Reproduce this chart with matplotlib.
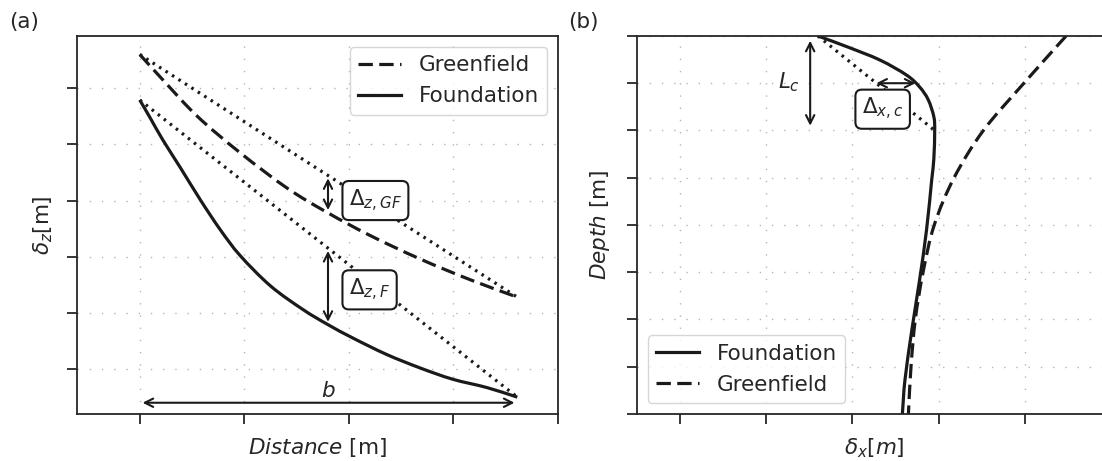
import numpy as np
import matplotlib
matplotlib.use("Agg")
from matplotlib import pyplot as plt
from matplotlib.path import Path
from matplotlib.patches import PathPatch

# (a) surface settlement along the building
dist_gf = [0.00, 0.22, 0.55, 0.96, 1.41, 1.79, 2.20, 2.68, 3.16, 3.61]
dz_gf = [5.60, 5.15, 4.50, 3.85, 3.22, 2.79, 2.38, 1.96, 1.59, 1.28]

dist_fd = [0.00, 0.10, 0.22, 0.39, 0.58, 0.77, 0.96, 1.25, 1.56, 1.80,
           2.04, 2.36, 2.68, 2.99, 3.32, 3.61]
dz_fd = [4.79, 4.47, 4.08, 3.58, 3.01, 2.48, 2.02, 1.48, 1.06, 0.79,
         0.55, 0.26, 0.02, -0.18, -0.33, -0.50]

# (b) horizontal displacement with depth
depth_fd = [0.00, 0.23, 0.51, 0.83, 1.08, 1.35, 1.71, 2.00, 2.60, 3.05,
            4.11, 5.16, 6.22, 7.28, 8.00]
dx_fd = [1.60, 1.94, 2.32, 2.63, 2.78, 2.88, 2.945, 2.955, 2.945, 2.92,
         2.86, 2.78, 2.69, 2.61, 2.58]
depth_gf = [0, 1, 2, 3, 4, 5, 6, 7, 8]
dx_gf = [4.48, 3.99, 3.52, 3.18, 2.95, 2.82, 2.73, 2.68, 2.65]

x_cut = 1.8      # where the deflection ratios are measured in (a)
L_c = 2.0        # cantilever length in (b)

INK = '#1a1a1a'
TXT = '#262626'
FS = 15.5
LW = 2.3
DASH = (0, (4.5, 2.0))
DOT = (0, (0.8, 1.6))


def style_axes(ax):
    for s in ax.spines.values():
        s.set_color(TXT)
        s.set_linewidth(1.3)
    ax.tick_params(length=7, width=1.3, color=TXT, labelbottom=False, labelleft=False)
    ax.grid(True, color='#b5b5b5', lw=1.0, ls=(0, (1, 7.8)))
    ax.set_axisbelow(True)


def smooth_curve(ax, xs, ys, **kw):
    # draw a smooth curve through the points as a chain of cubic beziers
    p = np.column_stack([xs, ys]).astype(float)
    ext = np.vstack([2 * p[0] - p[1], p, 2 * p[-1] - p[-2]])
    verts = [p[0]]
    codes = [Path.MOVETO]
    for i in range(1, len(ext) - 2):
        c1 = ext[i] + (ext[i + 1] - ext[i - 1]) / 6
        c2 = ext[i + 1] - (ext[i + 2] - ext[i]) / 6
        verts += [c1, c2, ext[i + 1]]
        codes += [Path.CURVE4] * 3
    ax.add_patch(PathPatch(Path(verts, codes), fill=False, capstyle='butt', **kw))


def dbl_arrow(ax, p0, p1, shrink=2):
    ax.annotate('', xy=p1, xytext=p0,
                arrowprops=dict(arrowstyle='<->', color=INK, lw=1.5,
                                mutation_scale=15, shrinkA=shrink, shrinkB=shrink))


def main():
    plt.rcParams['font.size'] = FS
    plt.rcParams['text.color'] = TXT
    plt.rcParams['axes.labelcolor'] = TXT

    fig = plt.figure(figsize=(11.02, 4.61), dpi=100)
    ax1 = fig.add_axes([0.0699, 0.1020, 0.4365, 0.8200])
    ax2 = fig.add_axes([0.5780, 0.1020, 0.4301, 0.8200])

    # ---- (a) ----
    style_axes(ax1)
    smooth_curve(ax1, dist_gf, dz_gf, ec=INK, lw=LW, ls=DASH)
    smooth_curve(ax1, dist_fd, dz_fd, ec=INK, lw=LW)
    ax1.plot([], [], color=INK, lw=LW, ls=DASH, label='Greenfield')
    ax1.plot([], [], color=INK, lw=LW, label='Foundation')

    # chords between the end points
    ax1.plot([dist_gf[0], dist_gf[-1]], [dz_gf[0], dz_gf[-1]], color=INK, lw=LW, ls=DOT)
    ax1.plot([dist_fd[0], dist_fd[-1]], [dz_fd[0], dz_fd[-1]], color=INK, lw=LW, ls=DOT)

    chord_gf = np.interp(x_cut, [dist_gf[0], dist_gf[-1]], [dz_gf[0], dz_gf[-1]])
    chord_fd = np.interp(x_cut, [dist_fd[0], dist_fd[-1]], [dz_fd[0], dz_fd[-1]])
    dbl_arrow(ax1, (x_cut, chord_gf), (x_cut, np.interp(x_cut, dist_gf, dz_gf)))
    dbl_arrow(ax1, (x_cut, chord_fd), (x_cut, np.interp(x_cut, dist_fd, dz_fd)))

    box = dict(boxstyle='round,pad=0.3', fc='white', ec=INK, lw=1.5)
    ax1.text(2.0, 3.0, r'$\Delta_{z,GF}$', ha='left', va='center', bbox=box, zorder=5)
    ax1.text(2.0, 1.41, r'$\Delta_{z,F}$', ha='left', va='center', bbox=box, zorder=5)

    dbl_arrow(ax1, (dist_fd[0], -0.6), (dist_fd[-1], -0.6))
    ax1.text(1.8, -0.39, r'$b$', ha='center', va='center')

    ax1.set_xlim(-0.6, 4.0)
    ax1.set_ylim(-0.8, 5.93)
    ax1.set_xticks(np.arange(0, 5))
    ax1.set_yticks(np.arange(0, 6))
    ax1.set_xlabel(r'$Distance$ [m]')
    ax1.set_ylabel(r'$\delta_z$[m]')
    ax1.xaxis.set_label_coords(0.5, -0.058)
    ax1.yaxis.set_label_coords(-0.046, 0.5)
    ax1.legend(loc='upper right', handlelength=2.0, fancybox=True, edgecolor='0.8')

    # ---- (b) ----
    style_axes(ax2)
    smooth_curve(ax2, dx_fd, depth_fd, ec=INK, lw=LW)
    smooth_curve(ax2, dx_gf, depth_gf, ec=INK, lw=LW, ls=DASH)
    ax2.plot([], [], color=INK, lw=LW, label='Foundation')
    ax2.plot([], [], color=INK, lw=LW, ls=DASH, label='Greenfield')

    x_top = dx_fd[0]
    x_lc = np.interp(L_c, depth_fd, dx_fd)
    ax2.plot([x_top, x_lc], [0, L_c], color=INK, lw=LW, ls=DOT)

    d_mid = L_c / 2
    dbl_arrow(ax2, (np.interp(d_mid, [0, L_c], [x_top, x_lc]), d_mid),
              (np.interp(d_mid, depth_fd, dx_fd), d_mid), shrink=0)
    dbl_arrow(ax2, (1.51, 0.1), (1.51, L_c - 0.1), shrink=0)
    ax2.text(1.26, 0.97, r'$L_c$', ha='center', va='center')
    ax2.text(2.11, 1.55, r'$\Delta_{x,c}$', ha='left', va='center', bbox=box, zorder=5)

    ax2.set_xlim(-0.5, 5.0)
    ax2.set_ylim(8, 0)
    ax2.set_xticks(np.arange(0, 5))
    ax2.set_yticks(np.arange(0, 9))
    ax2.set_xlabel(r'$\delta_x[m]$')
    ax2.set_ylabel(r'$Depth$ [m]')
    ax2.xaxis.set_label_coords(0.5, -0.058)
    ax2.yaxis.set_label_coords(-0.053, 0.5)
    ax2.legend(loc='lower left', handlelength=2.0, fancybox=True, edgecolor='0.8')

    fig.text(24 / 1102, 1 - 22 / 461, '(a)', ha='center', va='center')
    fig.text(583 / 1102, 1 - 22 / 461, '(b)', ha='center', va='center')

    fig.savefig('out.png', dpi=100)


if __name__ == "__main__":
    main()
